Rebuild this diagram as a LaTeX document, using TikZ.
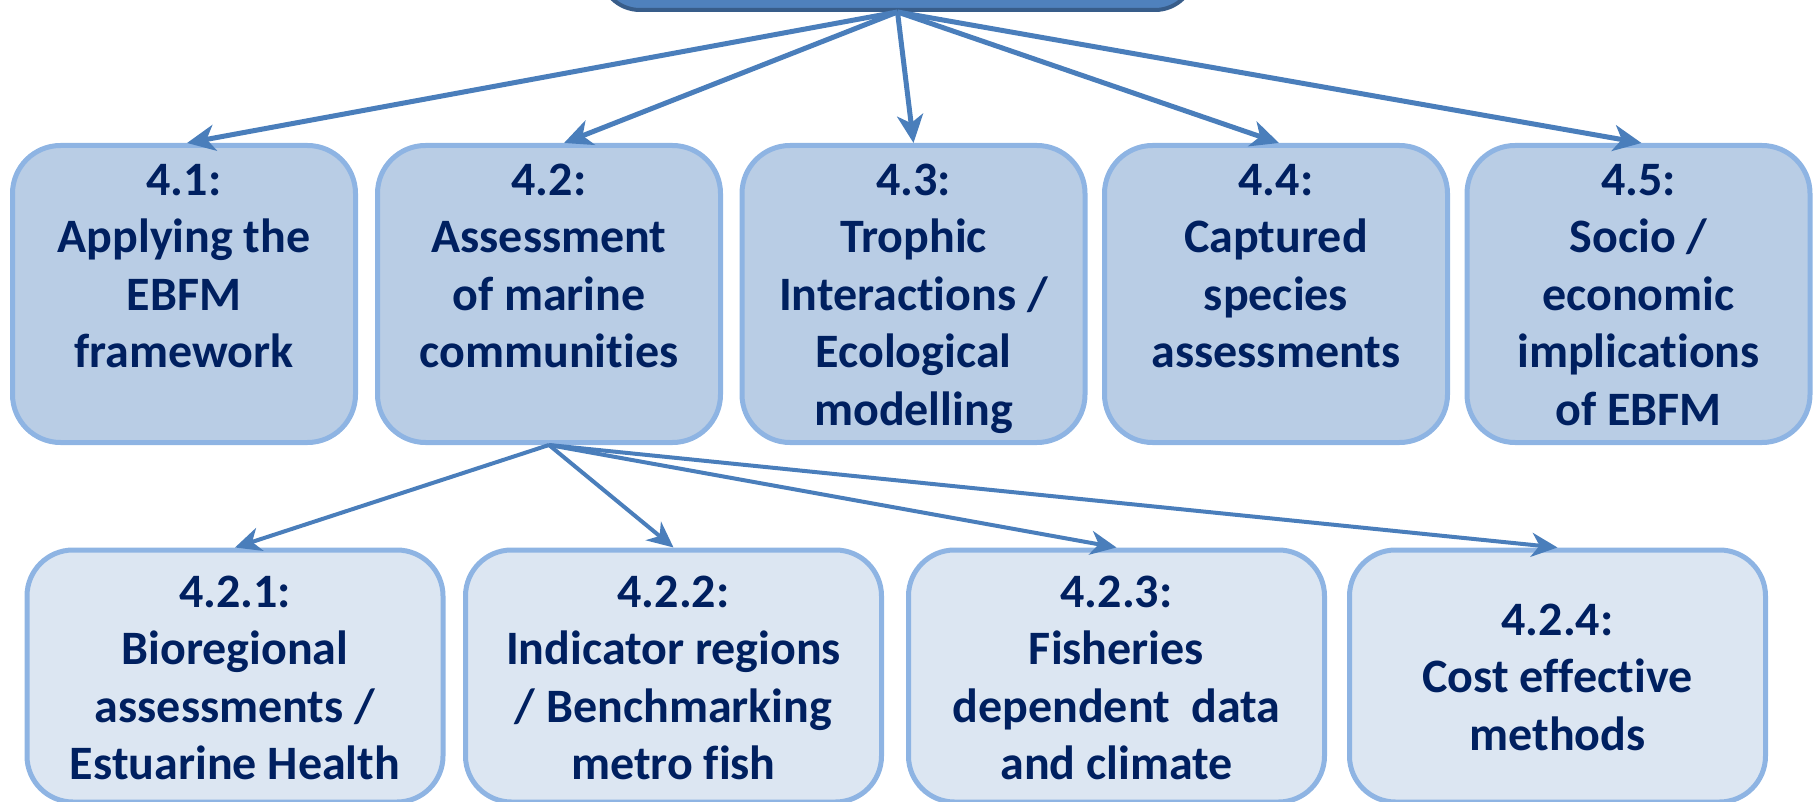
\documentclass[tikz,border=0pt]{standalone}
\usepackage{fontspec}
\setmainfont{Carlito}[Ligatures={NoCommon,NoContextual,NoRare}]
\newcommand\nolig{\kern0pt\relax}
\usetikzlibrary{arrows.meta}
\definecolor{arrowblue}{HTML}{4A7EBB}
\definecolor{rootfill}{HTML}{4F81BD}
\definecolor{rootline}{HTML}{385D8A}
\definecolor{topfill}{HTML}{B9CDE5}
\definecolor{lowfill}{HTML}{DCE6F2}
\definecolor{boxline}{HTML}{8EB4E3}
\definecolor{navy}{HTML}{002060}
\begin{document}
\begin{tikzpicture}[x=1pt,y=-1pt,
  rootbox/.style={draw=rootline, fill=rootfill, line width=4pt, rounded corners=40pt, minimum width=595pt, minimum height=80pt, inner sep=0pt},
  topbox/.style={draw=boxline, fill=topfill, line width=5pt, rounded corners=48pt, minimum width=343pt, minimum height=297pt, inner sep=0pt},
  lowbox/.style={draw=boxline, fill=lowfill, line width=5pt, rounded corners=46pt, minimum width=416pt, minimum height=252pt, inner sep=0pt},
  lbl/.style={anchor=base, align=center, text=navy, font=\fontsize{48}{57.5}\selectfont\bfseries, inner sep=0pt},
  toparrow/.style={draw=arrowblue, line width=5pt, -{Stealth[length=28pt,width=26pt,inset=8pt]}},
  lowarrow/.style={draw=arrowblue, line width=4pt, -{Stealth[length=26pt,width=24pt,inset=8pt]}},
]
\useasboundingbox (0,0) rectangle (1813,802);
\clip (0,0) rectangle (1813,802);

% root
\node[rootbox] (root) at (897.5,-30) {};

% top row boxes
\node[topbox] (b41) at (184,294) {};
\node[topbox] (b42) at (549,294) {};
\node[topbox] (b43) at (913.5,294) {};
\node[topbox] (b44) at (1276,294) {};
\node[topbox] (b45) at (1638.5,294) {};

% bottom row boxes
\node[lowbox] (b421) at (235,676) {};
\node[lowbox] (b422) at (673.5,676) {};
\node[lowbox] (b423) at (1116.5,676) {};
\node[lowbox] (b424) at (1557.5,676) {};

% labels (anchor = baseline of the last line)
\node[lbl] (t41) at (184,367.5) {4.1:\\Applying the\\EBFM\\framework};
\node[lbl] (t42) at (549,367.5) {4.2:\\Assessment\\of marine\\communit\nolig ies};
\node[lbl] (t43) at (913.5,425) {4.3:\\Trophic\\Interact\nolig ions /\\Ecological\\modelling};
\node[lbl] (t44) at (1276,367.5) {4.4:\\Captured\\species\\assessments};
\node[lbl] (t45) at (1638.5,425) {4.5:\\Socio /\\economic\\implications\\of EBFM};

\node[lbl] (t421) at (235,779.5) {4.2.1:\\Bioregional\\assessments /\\Estuarine Health};
\node[lbl] (t422) at (673.5,779.5) {4.2.2:\\Indicator regions\\/ Benchmarking\\metro fish};
\node[lbl] (t423) at (1116.5,779.5) {4.2.3:\\Fisheries\\dependent~ data\\and climate};
\node[lbl] (t424) at (1557.5,750) {4.2.4:\\Cost ef\nolig f\nolig ect\nolig ive\\methods};

% connectors
\draw[toparrow] (root.south) -- ([xshift=3pt]b41.north);
\draw[toparrow] (root.south) -- ([xshift=15pt]b42.north);
\draw[toparrow] (root.south) -- (b43.north);
\draw[toparrow] (root.south) -- ([xshift=3pt]b44.north);
\draw[toparrow] (root.south) -- ([xshift=3pt]b45.north);

\draw[lowarrow] (b42.south) -- (b421.north);
\draw[lowarrow] (b42.south) -- (b422.north);
\draw[lowarrow] (b42.south) -- (b423.north);
\draw[lowarrow] (b42.south) -- (b424.north);
\end{tikzpicture}
\end{document}
